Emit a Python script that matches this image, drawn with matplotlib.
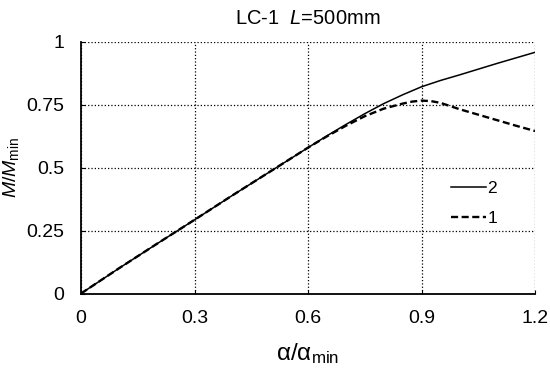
import numpy as np
import matplotlib.pyplot as plt

plt.rcParams['font.family'] = ['Liberation Sans', 'DejaVu Sans']
plt.rcParams['mathtext.fontset'] = 'custom'
plt.rcParams['mathtext.rm'] = 'Liberation Sans'
plt.rcParams['mathtext.it'] = 'Liberation Sans:italic'

# curve 2 (solid)
x2 = [0, 0.1, 0.2, 0.3, 0.4, 0.5, 0.6, 0.65, 0.7, 0.75, 0.8, 0.85, 0.9, 0.95, 1.0, 1.05, 1.1, 1.15, 1.2]
y2 = [0, 0.1, 0.197, 0.293, 0.39, 0.485, 0.58, 0.627, 0.672, 0.715, 0.755, 0.79, 0.822, 0.847, 0.869, 0.892, 0.915, 0.937, 0.959]
# curve 1 (dashed)
x1 = [0, 0.1, 0.2, 0.3, 0.4, 0.5, 0.6, 0.65, 0.7, 0.75, 0.8, 0.85, 0.875, 0.9, 0.925, 0.95, 1.0, 1.05, 1.1, 1.15, 1.2]
y1 = [0, 0.1, 0.197, 0.293, 0.39, 0.485, 0.58, 0.625, 0.667, 0.705, 0.735, 0.755, 0.763, 0.767, 0.765, 0.758, 0.733, 0.711, 0.689, 0.667, 0.646]

xticks = [0, 0.3, 0.6, 0.9, 1.2]
xticklabels = ['0', '0.3', '0.6', '0.9', '1.2']
yticks = [0, 0.25, 0.5, 0.75, 1]
yticklabels = ['0', '0.25', '0.5', '0.75', '1']

fig = plt.figure(figsize=(5.5, 3.73), dpi=100)
ax = fig.add_axes([0.1473, 0.2131, 0.8255, 0.6743])

ax.plot(x2, y2, color='black', lw=1.1, label='2')
ax.plot(x1, y1, color='black', lw=1.7, ls=(0, (3, 1.5)), label='1')

ax.set_xlim(0, 1.2)
ax.set_ylim(0, 1)
ax.set_xticks(xticks)
ax.set_xticklabels(xticklabels)
ax.set_yticks(yticks)
ax.set_yticklabels(yticklabels)
ax.tick_params(direction='in', length=3, labelsize=14, pad=12, color='black')
ax.grid(True, ls=':', color='black', lw=0.9)

for s in ['top', 'right']:
    ax.spines[s].set_visible(False)
for s in ['left', 'bottom']:
    ax.spines[s].set_linewidth(1.3)

ax.set_xlabel('α/α$_{\\mathregular{min}}$', fontsize=17.5, labelpad=10)
ax.set_ylabel(r'$M/M_{\mathrm{min}}$', fontsize=14, labelpad=4)
ax.set_title(r'LC-1  $L$=500mm', fontsize=14.5, pad=13)

ax.legend(loc='upper left', bbox_to_anchor=(0.815, 0.447), frameon=False,
          fontsize=12.5, handlelength=2.0, handletextpad=0.1, labelspacing=0.85,
          borderaxespad=0, borderpad=0)

fig.savefig('out.png', dpi=100)
